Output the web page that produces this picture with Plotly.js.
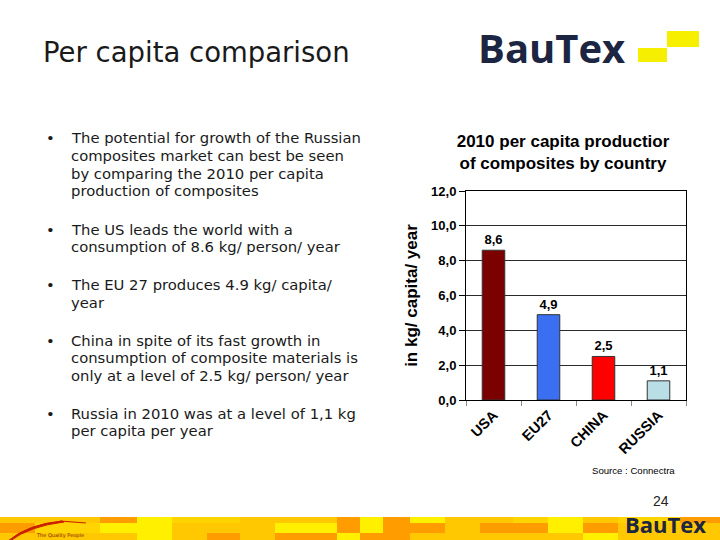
<!DOCTYPE html>
<html>
<head>
<meta charset="utf-8">
<script src="https://cdn.plot.ly/plotly-3.0.1.min.js"></script>
<style>
html,body{margin:0;padding:0;background:#fff;}
#chart{width:720px;height:540px;}
</style>
</head>
<body>
<div id="chart"></div>
<script>
// ---- data ----
const countries = ['USA', 'EU27', 'CHINA', 'RUSSIA'];
const perCapita = [8.6, 4.9, 2.5, 1.1];
const barColors = ['#7b0000', '#3a6ff2', '#ff0000', '#b9dee6'];
const chartTitleLines = ['2010 per capita productior', 'of composites by country'];
const yTitle = 'in kg/ capita/ year';
const slideTitle = 'Per capita comparison';
const bullets = [
  ['The potential for growth of the Russian', 'composites market can best be seen', 'by comparing the 2010 per capita', 'production of composites'],
  ['The US leads the world with a', 'consumption of 8.6 kg/ person/ year'],
  ['The EU 27 produces 4.9 kg/ capita/', 'year'],
  ['China in spite of its fast growth in', 'consumption of composite materials is', 'only at a level of 2.5 kg/ person/ year'],
  ['Russia in 2010 was at a level of 1,1 kg', 'per capita per year']
];
const bulletLineY = [[138, 155.5, 173, 190.5], [229, 246.5], [284.5, 302], [340, 357.5, 375], [413, 430.5]];
const sourceText = 'Source : Connectra';
const pageNumber = '24';

// ---- geometry helpers (plot area in pixels) ----
const L = 466, R = 686, T = 191, B = 400, W = 720, H = 540;
const px = x => (x - L) / (R - L);
const py = y => (B - y) / (B - T);

const bodyFont = {family: 'DejaVu Sans', size: 14.8, color: '#1a1a1a'};

const annotations = [];
// slide title
annotations.push({text: slideTitle, xref: 'paper', yref: 'paper', x: px(41), y: py(52), xanchor: 'left', yanchor: 'middle', showarrow: false,
  font: {family: 'DejaVu Sans', size: 27.5, color: '#1a1a1a'}});
// bullets
bullets.forEach((lines, i) => {
  annotations.push({text: '•', xref: 'paper', yref: 'paper', x: px(44), y: py(bulletLineY[i][0]), xanchor: 'left', yanchor: 'middle', showarrow: false, font: bodyFont});
  lines.forEach((ln, j) => {
    annotations.push({text: ln, xref: 'paper', yref: 'paper', x: px(69), y: py(bulletLineY[i][j]), xanchor: 'left', yanchor: 'middle', showarrow: false, font: bodyFont});
  });
});
// logo top
annotations.push({text: '<b>BauTex</b>', xref: 'paper', yref: 'paper', x: px(476), y: py(47), xanchor: 'left', yanchor: 'middle', showarrow: false,
  font: {family: 'Open Sans', size: 40, color: '#1c2541'}});
// source
annotations.push({text: sourceText, xref: 'paper', yref: 'paper', x: px(677), y: py(470), xanchor: 'right', yanchor: 'middle', showarrow: false,
  font: {family: 'Liberation Sans', size: 9.6, color: '#000'}});
// page number
annotations.push({text: pageNumber, xref: 'paper', yref: 'paper', x: px(661), y: py(501), xanchor: 'center', yanchor: 'middle', showarrow: false,
  borderpad: 0, font: {family: 'Liberation Sans Narrow, Liberation Sans', size: 14, color: '#222'}});
// bottom logo
annotations.push({text: '<b>BauTex</b>', xref: 'paper', yref: 'paper', x: px(624), y: py(540), xanchor: 'left', yanchor: 'bottom', showarrow: false,
  borderpad: 0, font: {family: 'Open Sans', size: 22, color: '#1c2541'}});
annotations.push({text: 'The Quality People', xref: 'paper', yref: 'paper', x: px(34), y: py(535), xanchor: 'left', yanchor: 'middle', showarrow: false,
  font: {family: 'DejaVu Sans', size: 5, color: '#7a1a00'}});

// ---- decorative shapes ----
const shapes = [];
// yellow logo blocks
shapes.push({type: 'rect', xref: 'paper', yref: 'paper', x0: px(638), x1: px(667), y0: py(62), y1: py(48), fillcolor: '#f7ef00', line: {width: 0}});
shapes.push({type: 'rect', xref: 'paper', yref: 'paper', x0: px(667), x1: px(699), y0: py(47), y1: py(31), fillcolor: '#f7ef00', line: {width: 0}});
// bottom mosaic strip: [x0, x1, top, mid, bottom]
const Yc = '#fff000', G = '#ffc800', O = '#ff9c00', LG = '#ffd400';
const strip = [
  [0, 35, G, O, G], [35, 100, G, LG, G], [100, 137, O, Yc, G], [137, 172, Yc, Yc, Yc], [172, 207, LG, G, G], [207, 240, LG, G, O],
  [240, 275, G, G, G], [275, 337, G, Yc, O], [337, 360, O, O, Yc], [360, 383, Yc, Yc, O], [383, 410, O, O, O], [410, 445, Yc, O, G], [445, 480, G, G, G],
  [480, 513, G, O, G], [513, 548, LG, O, G], [548, 583, Yc, Yc, G], [583, 618, G, O, Yc], [618, 680, LG, G, G], [680, 720, O, G, G]
];
const rows = [[517, 523], [523, 533], [533, 540]];
strip.forEach(s => {
  for (let r = 0; r < 3; r++) {
    shapes.push({type: 'rect', xref: 'paper', yref: 'paper', x0: px(s[0]), x1: px(s[1]), y0: py(rows[r][1]), y1: py(rows[r][0]), fillcolor: s[2 + r], line: {width: 0}, layer: 'below'});
  }
});
// swoosh
const sw = `M ${px(8)} ${py(541)} Q ${px(28)} ${py(524)} ${px(62)} ${py(521)} L ${px(64)} ${py(522)} Q ${px(30)} ${py(526)} ${px(10)} ${py(541)} Z`;
shapes.push({type: 'path', xref: 'paper', yref: 'paper', path: sw, fillcolor: '#c81e00', line: {color: '#c81e00', width: 1}});
shapes.push({type: 'line', xref: 'paper', yref: 'paper', x0: px(60), x1: px(86), y0: py(521), y1: py(523), line: {color: '#c81e00', width: 1}});

const trace = {
  type: 'bar',
  x: countries,
  y: perCapita,
  marker: {color: barColors, line: {color: '#333', width: 1}},
  texttemplate: '%{y:.1f}',
  textposition: 'outside',
  cliponaxis: false,
  textfont: {family: 'Liberation Sans', size: 13, color: '#000', weight: 'bold'},
  hoverinfo: 'skip'
};

const layout = {
  width: W, height: H,
  margin: {l: L, r: W - R, t: T, b: H - B, pad: 0},
  paper_bgcolor: '#fff', plot_bgcolor: '#fff',
  separators: ',.',
  showlegend: false,
  bargap: 0.59,
  title: {
    text: '<b>' + chartTitleLines.join('<br>') + '</b>',
    xref: 'paper', x: px(563), xanchor: 'center',
    yref: 'container', y: 1 - 147 / H, yanchor: 'top',
    font: {family: 'Liberation Sans', size: 17, color: '#000'}
  },
  xaxis: {
    type: 'category', showline: true, linecolor: '#000', linewidth: 1, mirror: true,
    ticks: 'outside', tickson: 'boundaries', ticklen: 5, tickcolor: '#888',
    tickangle: -45, tickfont: {family: 'Liberation Sans', size: 14.5, color: '#000', weight: 'bold'},
    automargin: false, showgrid: false
  },
  yaxis: {
    range: [0, 12], dtick: 2, tickformat: '.1f',
    showline: true, linecolor: '#000', linewidth: 1, mirror: true,
    ticks: 'outside', ticklen: 6, tickcolor: '#000',
    showgrid: true, gridcolor: '#2a2a2a', gridwidth: 1.2, zeroline: false,
    tickfont: {family: 'Liberation Sans', size: 13, color: '#000', weight: 'bold'},
    title: {text: yTitle, standoff: 9, font: {family: 'Liberation Sans', size: 17, color: '#000', weight: 'bold'}},
    automargin: false
  },
  annotations: annotations,
  shapes: shapes
};

Plotly.newPlot('chart', [trace], layout, {staticPlot: true, displayModeBar: false});
</script>
</body>
</html>
